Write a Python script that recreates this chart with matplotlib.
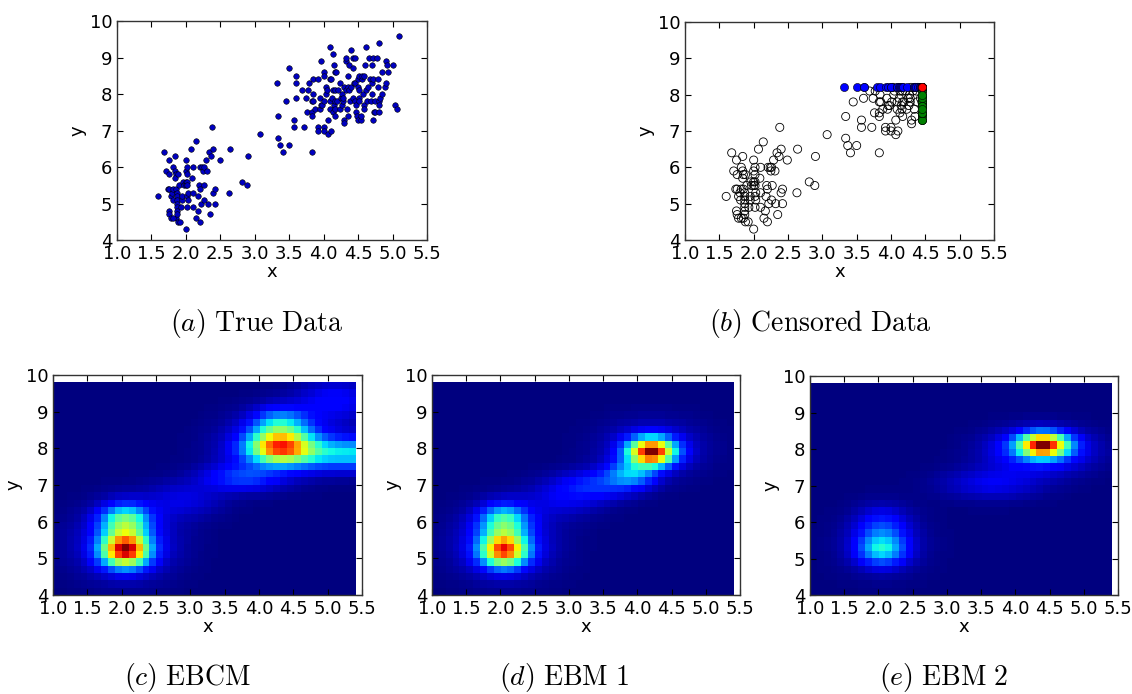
import numpy as np
import matplotlib
matplotlib.use("Agg")
import matplotlib.pyplot as plt

# ---------------- data ----------------
x_true = [1.60, 1.68, 1.71, 1.74, 1.76, 1.75, 1.76, 1.75, 1.76, 1.78, 1.78, 1.80, 1.81, 1.82, 1.84, 1.82,
          1.84, 1.85, 1.84, 1.85, 1.85, 1.82, 1.88, 1.87, 1.87, 1.87, 1.87, 1.87, 1.87, 1.87, 1.88, 1.92,
          1.90, 1.93, 1.95, 1.95, 1.96, 1.97, 2.00, 2.00, 2.02, 2.02, 2.00, 2.00, 2.02, 2.00, 2.02, 2.02,
          2.03, 2.03, 2.02, 2.07, 2.09, 2.10, 2.10, 2.10, 2.14, 2.15, 2.17, 2.18, 2.19, 2.20, 2.20, 2.21,
          2.22, 2.24, 2.25, 2.26, 2.26, 2.27, 2.29, 2.31, 2.32, 2.34, 2.35, 2.37, 2.38, 2.40, 2.40, 2.42,
          2.42, 2.49, 2.63, 2.64, 2.81, 2.89, 2.90, 3.07,
          3.32, 3.34, 3.34, 3.37, 3.41, 3.45, 3.50, 3.50, 3.57, 3.57, 3.60, 3.60, 3.60, 3.69, 3.72, 3.74,
          3.76, 3.77, 3.79, 3.83, 3.84, 3.84, 3.83, 3.83, 3.83, 3.85, 3.88, 3.92, 3.92, 3.92, 3.94, 3.95,
          3.96, 3.96, 3.98, 4.00, 4.00, 4.00, 4.00, 4.01, 4.03, 4.04, 4.05, 4.07, 4.07, 4.09, 4.09, 4.09,
          4.09, 4.10, 4.11, 4.12, 4.13, 4.13, 4.13, 4.15, 4.16, 4.15, 4.16, 4.18, 4.17, 4.17, 4.17, 4.19,
          4.21, 4.23, 4.24, 4.25, 4.26, 4.27, 4.28, 4.28, 4.29, 4.30, 4.30, 4.32, 4.33, 4.33, 4.34, 4.35,
          4.35, 4.35, 4.37, 4.37, 4.38, 4.39, 4.40, 4.42, 4.42, 4.43, 4.44, 4.45, 4.45, 4.46, 4.47, 4.47,
          4.48, 4.50, 4.50, 4.50, 4.51, 4.51, 4.52, 4.52, 4.54, 4.54, 4.55, 4.56, 4.57, 4.58, 4.58, 4.59,
          4.60, 4.61, 4.62, 4.63, 4.64, 4.66, 4.67, 4.68, 4.70, 4.70, 4.70, 4.71, 4.72, 4.72, 4.73, 4.75,
          4.75, 4.77, 4.79, 4.79, 4.80, 4.80, 4.80, 4.81, 4.82, 4.84, 4.85, 4.89, 4.90, 4.90, 4.92, 4.93,
          5.01, 5.03, 5.07, 5.10]
y_true = [5.2, 6.4, 5.9, 5.4, 5.4, 6.2, 5.8, 4.8, 4.7, 4.6, 5.2, 5.3, 5.1, 5.4, 6.3, 6.0,
          5.9, 5.8, 5.7, 5.4, 4.6, 4.6, 5.8, 5.3, 5.2, 5.1, 5.0, 4.9, 4.8, 4.7, 4.5, 4.5,
          5.5, 4.9, 5.1, 5.2, 5.6, 5.5, 5.6, 5.5, 5.6, 5.5, 6.2, 5.9, 5.8, 4.3, 6.0, 5.2,
          5.3, 5.1, 4.9, 6.5, 5.7, 6.0, 5.3, 4.9, 6.7, 4.6, 4.8, 5.2, 5.5, 5.4, 4.5, 6.0,
          5.0, 6.0, 5.9, 5.1, 6.0, 5.5, 6.2, 5.9, 5.0, 6.4, 4.7, 6.3, 7.1, 6.5, 5.3, 5.4,
          5.0, 6.2, 5.3, 6.5, 5.6, 5.5, 6.3, 6.9,
          8.3, 7.4, 6.8, 6.6, 6.4, 7.8, 6.6, 8.7, 7.3, 7.1, 8.5, 8.3, 7.9, 8.1, 7.1, 7.9,
          7.5, 8.1, 8.3, 7.8, 8.4, 8.0, 7.5, 7.4, 6.4, 7.8, 7.6, 8.4, 7.1, 7.0, 7.9, 7.6,
          8.9, 7.7, 7.7, 8.6, 8.5, 7.1, 7.0, 7.8, 8.2, 8.0, 8.1, 7.3, 6.9, 9.3, 8.4, 7.8,
          7.6, 7.0, 8.4, 7.9, 9.1, 8.1, 7.5, 7.7, 7.6, 8.8, 8.6, 8.6, 8.1, 7.8, 7.4, 7.8,
          8.1, 7.6, 8.3, 7.9, 7.7, 8.0, 7.8, 7.9, 8.2, 7.3, 7.2, 8.1, 8.9, 9.0, 7.6, 8.5,
          8.2, 7.4, 8.8, 8.1, 7.8, 8.2, 9.2, 8.7, 9.0, 7.9, 8.3, 9.0, 7.8, 8.3, 7.7, 7.5,
          7.4, 8.2, 7.3, 8.4, 8.1, 7.9, 8.5, 7.8, 7.3, 7.4, 8.4, 8.5, 8.0, 7.7, 7.6, 8.5,
          8.8, 9.3, 8.1, 7.8, 8.2, 9.0, 8.4, 7.8, 8.0, 8.8, 8.3, 7.3, 9.0, 8.4, 7.5, 7.8,
          7.5, 9.0, 8.2, 8.4, 9.4, 7.8, 7.5, 7.7, 7.9, 8.0, 8.6, 8.2, 8.9, 8.3, 8.8, 8.6,
          8.8, 7.7, 7.6, 9.6]

# censoring thresholds (panel b)
censor_x = 4.45
censor_y = 8.2

# density maps: cell grid and mixture components (cx, cy, sx, sy, weight)
grid_x_edges = (1.0, 5.4, 0.1)
grid_y_edges = (4.0, 9.8, 0.2)
ebcm_cx = [2.05, 2.05, 2.05, 4.30, 4.30, 4.30, 5.50, 3.75, 2.90, 5.10]
ebcm_cy = [5.22, 6.00, 5.40, 8.00, 8.60, 8.10, 7.85, 7.20, 6.60, 9.30]
ebcm_sx = [0.23, 0.24, 0.50, 0.32, 0.28, 0.55, 0.75, 0.40, 0.40, 0.40]
ebcm_sy = [0.30, 0.32, 0.65, 0.28, 0.32, 0.55, 0.30, 0.25, 0.35, 0.40]
ebcm_w = [1.00, 0.50, 0.16, 0.75, 0.35, 0.16, 0.40, 0.20, 0.10, 0.14]

ebm1_cx = [2.05, 2.05, 2.05, 4.20, 4.20, 3.90, 3.40, 2.90]
ebm1_cy = [5.22, 6.00, 5.40, 7.90, 8.00, 7.30, 7.00, 6.60]
ebm1_sx = [0.23, 0.24, 0.50, 0.23, 0.50, 0.25, 0.40, 0.40]
ebm1_sy = [0.30, 0.32, 0.65, 0.25, 0.50, 0.25, 0.28, 0.35]
ebm1_w = [0.85, 0.42, 0.14, 1.00, 0.12, 0.28, 0.16, 0.09]

ebm2_cx = [4.40, 4.35, 2.05, 2.05, 2.05, 3.65]
ebm2_cy = [8.10, 7.95, 5.25, 5.90, 5.40, 7.05]
ebm2_sx = [0.24, 0.50, 0.24, 0.25, 0.45, 0.50]
ebm2_sy = [0.22, 0.40, 0.30, 0.35, 0.60, 0.30]
ebm2_w = [1.00, 0.25, 0.38, 0.16, 0.07, 0.12]

captions = [r"$(a)\ \mathrm{True\ Data}$", r"$(b)\ \mathrm{Censored\ Data}$",
            r"$(c)\ \mathrm{EBCM}$", r"$(d)\ \mathrm{EBM\ 1}$", r"$(e)\ \mathrm{EBM\ 2}$"]

# ---------------- styling ----------------
plt.rcParams.update({
    "font.family": "DejaVu Sans",
    "mathtext.fontset": "cm",
    "xtick.direction": "in", "ytick.direction": "in",
    "xtick.top": True, "ytick.right": True,
    "xtick.major.size": 4, "ytick.major.size": 4,
    "xtick.labelsize": 13, "ytick.labelsize": 13,
    "axes.labelsize": 13,
    "axes.linewidth": 1.0,
    "axes.edgecolor": "#333333",
})

W, H = 1132, 694
fig = plt.figure(figsize=(W / 100, H / 100), dpi=100)


def add_ax(left, top, right, bottom):
    return fig.add_axes([left / W, 1 - bottom / H, (right - left) / W, (bottom - top) / H])


def style(ax, xt):
    ax.set_xlim(1.0, 5.5)
    ax.set_ylim(4, 10)
    ax.set_xticks(xt)
    ax.set_xticklabels([f"{v:.1f}" for v in xt])
    ax.set_yticks(range(4, 11))
    ax.set_xlabel("x", labelpad=0)
    ax.set_ylabel("y", labelpad=2)


xt = np.arange(1.0, 5.51, 0.5)
xa = np.array(x_true)
ya = np.array(y_true)

# (a) true data
ax_a = add_ax(117, 21, 427, 240)
ax_a.scatter(xa, ya, s=16, c="#0000c0", edgecolors="k", linewidths=0.4, zorder=3)
style(ax_a, xt)

# (b) censored data
ax_b = add_ax(685, 22, 994, 240)
cx_flag = xa > censor_x
cy_flag = ya > censor_y
unc = ~cx_flag & ~cy_flag
ax_b.scatter(xa[unc], ya[unc], s=34, facecolors="none", edgecolors="k", linewidths=0.6, zorder=3)
only_y = cy_flag & ~cx_flag
ax_b.scatter(xa[only_y], np.full(only_y.sum(), censor_y), s=34, c="b", edgecolors="k",
             linewidths=0.4, zorder=4)
only_x = cx_flag & ~cy_flag
ax_b.scatter(np.full(only_x.sum(), censor_x), ya[only_x], s=34, c="g", edgecolors="k",
             linewidths=0.4, zorder=4)
both = cx_flag & cy_flag
ax_b.scatter(np.full(both.sum(), censor_x), np.full(both.sum(), censor_y), s=34, c="r",
             edgecolors="k", linewidths=0.4, zorder=5)
style(ax_b, xt)

# density panels
x0, x1, dx = grid_x_edges
y0, y1, dy = grid_y_edges
xc = np.arange(x0 + dx / 2, x1, dx)
yc = np.arange(y0 + dy / 2, y1, dy)
GX, GY = np.meshgrid(xc, yc)


def density(cxs, cys, sxs, sys_, ws):
    Z = np.zeros_like(GX)
    for cx, cy, sx, sy, w in zip(cxs, cys, sxs, sys_, ws):
        Z += w * np.exp(-0.5 * (((GX - cx) / sx) ** 2 + ((GY - cy) / sy) ** 2))
    return Z


panels = [
    ((53, 375, 362, 595), (ebcm_cx, ebcm_cy, ebcm_sx, ebcm_sy, ebcm_w)),
    ((432, 375, 740, 595), (ebm1_cx, ebm1_cy, ebm1_sx, ebm1_sy, ebm1_w)),
    ((810, 376, 1118, 595), (ebm2_cx, ebm2_cy, ebm2_sx, ebm2_sy, ebm2_w)),
]
for box, comps in panels:
    ax = add_ax(*box)
    Z = density(*comps)
    ax.imshow(Z, origin="lower", extent=[x0, x1, y0, y1], cmap="jet",
              interpolation="nearest", aspect="auto", zorder=1)
    style(ax, xt)

# captions
cap_pos = [(256, 324), (820, 324), (187, 677), (564, 677), (944, 677)]
for (px, py), txt in zip(cap_pos, captions):
    fig.text(px / W, 1 - py / H, txt, ha="center", va="center", fontsize=20)

fig.savefig("out.png", dpi=100, facecolor="white")
